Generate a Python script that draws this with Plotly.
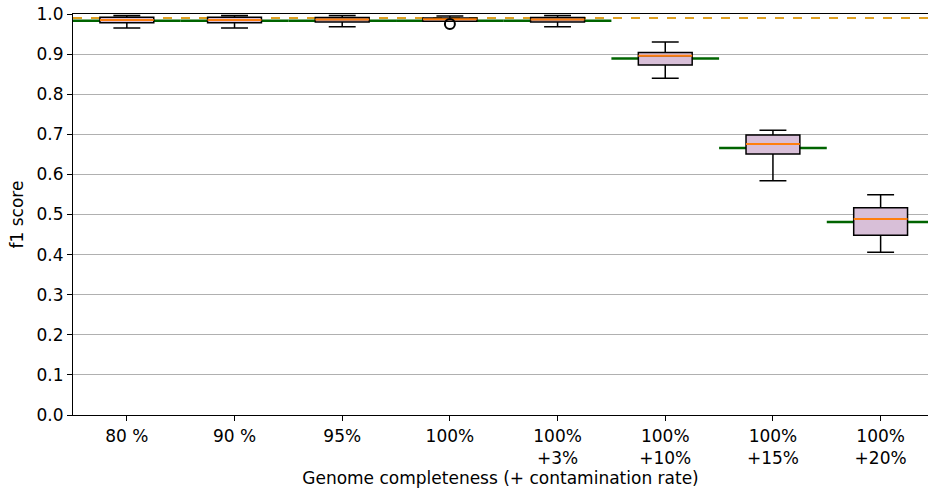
import plotly.graph_objects as go

categories = ["80 %", "90 %", "95%", "100%", "100%<br>+3%", "100%<br>+10%", "100%<br>+15%", "100%<br>+20%"]
positions = [1, 2, 3, 4, 5, 6, 7, 8]

lower_whisker = [0.965, 0.965, 0.968, 0.982, 0.968, 0.840, 0.584, 0.406]
q1_values     = [0.978, 0.978, 0.980, 0.982, 0.980, 0.873, 0.651, 0.448]
median_values = [0.985, 0.985, 0.986, 0.987, 0.986, 0.896, 0.676, 0.489]
q3_values     = [0.992, 0.992, 0.991, 0.990, 0.991, 0.904, 0.698, 0.517]
upper_whisker = [0.996, 0.996, 0.996, 0.995, 0.996, 0.930, 0.710, 0.549]

outlier_x = [4]
outlier_y = [0.975]

expected_values = [0.983, 0.983, 0.983, 0.983, 0.983, 0.889, 0.666, 0.481]
reference_score = 0.990

y_ticks = [0.0, 0.1, 0.2, 0.3, 0.4, 0.5, 0.6, 0.7, 0.8, 0.9, 1.0]

FONT = "DejaVu Sans"
BOX_W = 0.5

fig = go.Figure()

# reference dashed line (below traces)
fig.add_shape(type="line", xref="paper", yref="y", x0=0, x1=1, y0=reference_score, y1=reference_score,
              line=dict(color="#e0a020", width=2, dash="dash"), layer="below")

# expected (green) segments as shapes under the boxes
for p, v in zip(positions, expected_values):
    fig.add_shape(type="line", xref="x", yref="y", x0=p - 0.5, x1=p + 0.5, y0=v, y1=v,
                  line=dict(color="#006400", width=2.5), layer="below")

# boxes
fig.add_trace(go.Box(
    x=positions, q1=q1_values, median=median_values, q3=q3_values,
    lowerfence=lower_whisker, upperfence=upper_whisker,
    width=BOX_W, whiskerwidth=0.5, boxpoints=False,
    fillcolor="#D8BFD8", line=dict(color="black", width=1.5),
    showlegend=False,
))

# medians
mx, my = [], []
for p, m in zip(positions, median_values):
    mx += [p - BOX_W / 2, p + BOX_W / 2, None]
    my += [m, m, None]
fig.add_trace(go.Scatter(x=mx, y=my, mode="lines", line=dict(color="#ff7f0e", width=2),
                         showlegend=False, hoverinfo="skip"))

# outliers
fig.add_trace(go.Scatter(x=outlier_x, y=outlier_y, mode="markers",
                         marker=dict(symbol="circle-open", size=10, color="black", line=dict(width=2)),
                         showlegend=False))

fig.update_layout(
    width=928, height=491,
    margin=dict(l=73, r=0, t=14, b=76),
    paper_bgcolor="white", plot_bgcolor="white",
    font=dict(family=FONT, size=17, color="black"),
    showlegend=False,
    xaxis=dict(
        range=[0.5, 8.44], tickmode="array", tickvals=positions, ticktext=categories,
        showgrid=False, zeroline=False, showline=True, linecolor="black", linewidth=1.2,
        mirror=True, ticks="outside", ticklen=5, tickcolor="black",
        tickfont=dict(size=17),
        title=dict(text="Genome completeness (+ contamination rate)", font=dict(size=17), standoff=2),
    ),
    yaxis=dict(
        range=[0, 1.0], tickmode="array", tickvals=y_ticks, ticktext=[f"{v:.1f}" for v in y_ticks],
        showgrid=True, gridcolor="#b0b0b0", gridwidth=1.2, zeroline=False,
        showline=True, linecolor="black", linewidth=1.2, ticks="outside", ticklen=5, tickcolor="black",
        tickfont=dict(size=17),
        title=dict(text="f1 score", font=dict(size=17), standoff=8),
    ),
)

fig.write_html("out.html")
